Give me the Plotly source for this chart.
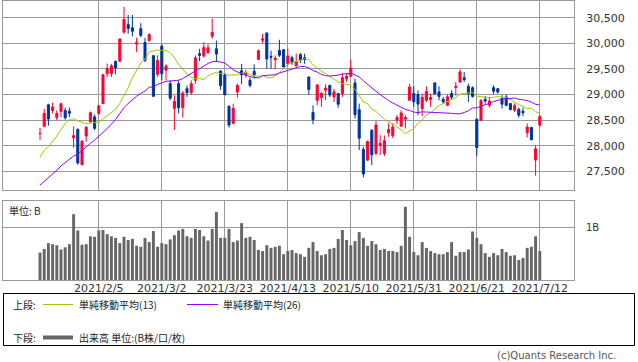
import plotly.graph_objects as go

W, H = 638, 362

# ---------------- data ----------------
months = {
    1: [18, 19, 20, 21, 22, 25, 26, 27, 28, 29],
    2: [1, 2, 3, 4, 5, 8, 9, 10, 12, 15, 16, 17, 18, 19, 22, 24, 25, 26],
    3: [1, 2, 3, 4, 5, 8, 9, 10, 11, 12, 15, 16, 17, 18, 19, 22, 23, 24, 25, 26, 29, 30, 31],
    4: [1, 2, 5, 6, 7, 8, 9, 12, 13, 14, 15, 16, 19, 20, 21, 22, 23, 26, 27, 28, 30],
    5: [6, 7, 10, 11, 12, 13, 14, 17, 18, 19, 20, 21, 24, 25, 26, 27, 28, 31],
    6: [1, 2, 3, 4, 7, 8, 9, 10, 11, 14, 15, 16, 17, 18, 21, 22, 23, 24, 25, 28, 29, 30],
    7: [1, 2, 5, 6, 7, 8, 9, 12],
}
dates = [f"2021/{m}/{d}" for m, ds in months.items() for d in ds]

opens = [28238, 28380, 28800, 28690, 28550, 28670, 28690, 28675, 28155, 28320,
         27630, 28190, 28466, 28564, 28630, 28822, 29408, 29410, 29648, 29650,
         30220, 30370, 30305, 29985, 30285, 30017, 30058, 29760, 29395, 29946,
         29473, 29213, 28730, 29213, 28745, 29114, 29035, 29278, 29798, 29752,
         29817, 30140, 29895, 29460, 29382, 28771, 28435, 29050, 29465, 29385,
         29278, 29454, 29687, 30060, 30200, 29745, 29680, 29862, 29876, 29603,
         29720, 29557, 29780, 29720, 29343, 28650, 28888, 28942, 29083, 29180,
         28954, 29019, 29019, 29310, 29356, 29227, 28706, 27928, 27720, 28304,
         27851, 28012, 27851, 28252, 28194, 28500, 28382, 28519, 28888, 29019,
         28999, 28727, 28888, 28903, 29227, 29051, 28908, 28790, 29019, 29140,
         29245, 29327, 29160, 29134, 28519, 28500, 28906, 28790, 29134, 29114,
         28922, 28954, 28824, 28694, 28712, 28675, 28252, 28357, 27720, 28402]
highs = [28349, 28720, 28820, 28840, 28690, 28830, 28745, 28745, 28375, 28340,
         28100, 28385, 28670, 28611, 28800, 29400, 29604, 29600, 29667, 30100,
         30714, 30555, 30555, 30110, 30395, 30104, 30200, 29760, 29765, 29985,
         29590, 29278, 28985, 29278, 29070, 29178, 29280, 29765, 29895, 30020,
         29985, 30485, 30053, 29473, 29400, 28790, 28820, 29213, 29600, 29480,
         29330, 29590, 29880, 30188, 30220, 29857, 29765, 30070, 29890, 29895,
         29760, 29798, 29810, 29800, 29356, 28790, 29200, 29050, 29200, 29190,
         29114, 29032, 29420, 29420, 29685, 29310, 28822, 27980, 28100, 28318,
         28486, 28207, 28200, 28435, 28440, 28600, 28690, 28597, 29213, 29160,
         29083, 29019, 29160, 29019, 29240, 29161, 28954, 29003, 29083, 29245,
         29493, 29440, 29213, 29160, 28532, 28910, 28973, 28954, 29180, 29130,
         28986, 29000, 28840, 28824, 28745, 28745, 28435, 28370, 28012, 28600]
lows = [28111, 28360, 28390, 28630, 28500, 28560, 28510, 28560, 27960, 27630,
        27620, 28080, 28450, 28305, 28600, 28820, 29343, 29340, 29395, 29640,
        30188, 30190, 30136, 29830, 30123, 29636, 30030, 28950, 29343, 29278,
        29278, 28888, 28308, 28630, 28550, 28954, 29000, 29213, 29655, 29720,
        29798, 30090, 29636, 29094, 28990, 28356, 28420, 28940, 29200, 29330,
        29140, 29310, 29680, 30006, 29505, 29505, 29494, 29733, 29530, 29570,
        29580, 29557, 29616, 29600, 29000, 28421, 28790, 28760, 28890, 28954,
        28855, 28745, 28953, 29250, 29343, 28533, 27915, 27385, 27700, 27623,
        27817, 27817, 27800, 28174, 28150, 28420, 28370, 28337, 28888, 28760,
        28597, 28578, 28856, 28760, 28990, 28888, 28822, 28790, 28908, 28980,
        29227, 29245, 28856, 28940, 27795, 28480, 28822, 28745, 29003, 29020,
        28727, 28770, 28690, 28661, 28550, 28578, 28162, 28110, 27414, 28370]
closes = [28242, 28633, 28523, 28756, 28631, 28822, 28546, 28635, 28197, 27663,
          28091, 28362, 28646, 28341, 28779, 29388, 29505, 29562, 29520, 30084,
          30467, 30292, 30236, 30017, 30156, 29671, 30168, 28966, 29664, 29408,
          29559, 28930, 28864, 28743, 29028, 29036, 29212, 29717, 29766, 29921,
          29914, 30216, 29792, 29174, 28995, 28405, 28729, 29176, 29384, 29432,
          29178, 29388, 29854, 30089, 29696, 29730, 29708, 29768, 29538, 29751,
          29620, 29642, 29683, 29685, 29100, 28508, 29188, 29020, 29126, 28991,
          29053, 28812, 29331, 29357, 29518, 28608, 28147, 27448, 28084, 27824,
          28406, 28044, 28098, 28317, 28364, 28553, 28642, 28549, 29149, 28860,
          28814, 28946, 29058, 28942, 29019, 28963, 28860, 28958, 28948, 29161,
          29441, 29291, 29018, 28964, 27964, 28884, 28874, 28875, 29066, 29048,
          28812, 28791, 28707, 28783, 28598, 28643, 28366, 28118, 27940, 28569]
ma13 = [27773, 27910, 27983, 28084, 28190, 28318, 28432, 28520, 28525, 28486,
        28458, 28432, 28442, 28450, 28461, 28528, 28585, 28657, 28710, 28829,
        28970, 29131, 29329, 29477, 29615, 29694, 29834, 29849, 29870, 29862,
        29862, 29817, 29723, 29590, 29493, 29401, 29339, 29305, 29312, 29293,
        29366, 29409, 29438, 29409, 29414, 29378, 29377, 29389, 29416, 29432,
        29391, 29362, 29357, 29370, 29330, 29325, 29367, 29426, 29513, 29592,
        29626, 29646, 29665, 29704, 29682, 29578, 29509, 29457, 29411, 29355,
        29300, 29245, 29212, 29192, 29183, 29100, 28982, 28854, 28822, 28717,
        28670, 28586, 28518, 28461, 28427, 28367, 28312, 28237, 28279, 28334,
        28439, 28505, 28600, 28641, 28716, 28783, 28825, 28870, 28901, 28941,
        29009, 29020, 29032, 29044, 28968, 28955, 28950, 28939, 28947, 28961,
        28950, 28938, 28903, 28852, 28799, 28770, 28724, 28736, 28663, 28640]
ma26 = [27231, 27301, 27369, 27450, 27523, 27605, 27674, 27744, 27800, 27836,
        27900, 27970, 28046, 28111, 28185, 28255, 28335, 28423, 28514, 28631,
        28745, 28828, 28908, 28968, 29024, 29068, 29142, 29155, 29199, 29224,
        29259, 29264, 29276, 29280, 29312, 29365, 29408, 29460, 29503, 29564,
        29608, 29639, 29650, 29635, 29615, 29551, 29484, 29441, 29408, 29386,
        29348, 29337, 29325, 29368, 29370, 29382, 29388, 29420, 29446, 29485,
        29507, 29531, 29549, 29548, 29522, 29468, 29440, 29394, 29368, 29361,
        29363, 29379, 29402, 29409, 29414, 29382, 29343, 29268, 29200, 29113,
        29063, 28999, 28937, 28881, 28836, 28790, 28752, 28710, 28689, 28658,
        28647, 28663, 28658, 28655, 28651, 28650, 28643, 28648, 28634, 28626,
        28623, 28650, 28683, 28741, 28737, 28777, 28795, 28827, 28865, 28893,
        28910, 28919, 28922, 28931, 28909, 28901, 28884, 28852, 28809, 28795]
volume_b = [0.52, 0.59, 0.70, 0.68, 0.66, 0.58, 0.62, 0.68, 1.25, 0.94,
            0.67, 0.68, 0.83, 0.82, 0.94, 0.95, 0.87, 0.83, 0.80, 0.70,
            0.82, 0.76, 0.78, 0.65, 0.63, 0.80, 0.72, 0.93, 0.63, 0.70,
            0.68, 0.77, 0.85, 0.94, 0.97, 0.83, 0.80, 0.97, 0.95, 0.83,
            0.75, 0.97, 1.29, 0.80, 0.80, 0.97, 0.72, 0.75, 1.08, 0.80,
            0.82, 0.76, 0.57, 0.55, 0.66, 0.61, 0.63, 0.65, 0.49, 0.55,
            0.57, 0.51, 0.49, 0.44, 0.61, 0.72, 0.55, 0.47, 0.49, 0.59,
            0.61, 0.78, 0.95, 0.76, 0.66, 0.74, 0.91, 0.80, 0.65, 0.74,
            0.68, 0.57, 0.59, 0.55, 0.55, 0.53, 0.65, 1.39, 0.82, 0.53,
            0.47, 0.72, 0.61, 0.55, 0.51, 0.49, 0.49, 0.53, 0.72, 0.46,
            0.53, 0.53, 0.58, 0.92, 0.80, 0.68, 0.51, 0.44, 0.51, 0.47,
            0.59, 0.53, 0.46, 0.47, 0.38, 0.42, 0.61, 0.63, 0.83, 0.55]

date_tick_labels = ["2021/2/5", "2021/3/2", "2021/3/23", "2021/4/13",
                    "2021/5/10", "2021/5/31", "2021/6/21", "2021/7/12"]
price_ticks = [27500, 28000, 28500, 29000, 29500, 30000, 30500]
volume_ticks = [1]
volume_tick_labels = ["1B"]

# ---------------- helpers ----------------
xi = list(range(len(dates)))
tick_pos = [dates.index(d) for d in date_tick_labels]


def px(x):
    return x / W


def py(y):
    return 1 - y / H


X_RANGE = [(3 - 40) / 4.2, (574 - 40) / 4.2]
RED = "#ff0033"
BLUE = "#003399"
GRID = "#999999"
FONT = "DejaVu Sans, Noto Sans CJK JP, sans-serif"
CJK = "Noto Sans CJK JP, DejaVu Sans, sans-serif"

fig = go.Figure()

fig.add_trace(go.Candlestick(
    x=xi, open=opens, high=highs, low=lows, close=closes,
    increasing=dict(line=dict(color=RED, width=1), fillcolor=RED),
    decreasing=dict(line=dict(color=BLUE, width=1), fillcolor=BLUE),
    whiskerwidth=0, xaxis="x", yaxis="y", showlegend=False,
))
fig.add_trace(go.Scatter(x=xi, y=ma13, mode="lines",
                         line=dict(color="#99cc00", width=1),
                         xaxis="x", yaxis="y", showlegend=False))
fig.add_trace(go.Scatter(x=xi, y=ma26, mode="lines",
                         line=dict(color="#9900ff", width=1),
                         xaxis="x", yaxis="y", showlegend=False))
fig.add_trace(go.Bar(x=xi, y=volume_b, marker=dict(color="#666666", line=dict(width=0)),
                     xaxis="x2", yaxis="y2", showlegend=False))

axis_common = dict(showgrid=True, gridcolor=GRID, gridwidth=1, zeroline=False,
                   showline=True, linecolor=GRID, linewidth=1, mirror=True)

fig.update_layout(
    width=W, height=H,
    margin=dict(l=0, r=0, t=0, b=0),
    paper_bgcolor="white", plot_bgcolor="white",
    bargap=0.3, boxgap=0.3,
    font=dict(family=FONT, size=11, color="#333333"),
    xaxis=dict(domain=[px(3), px(574)], range=X_RANGE, tickvals=tick_pos,
               showticklabels=False, ticks="", rangeslider=dict(visible=False),
               anchor="y", **axis_common),
    yaxis=dict(domain=[py(190), py(0.5)], range=[27136, 30837], side="right",
               tickvals=price_ticks, ticktext=[f"{v:,}" for v in price_ticks],
               ticks="", ticklabelstandoff=9, anchor="x",
               tickfont=dict(family=FONT, size=11, color="#333333"), **axis_common),
    xaxis2=dict(domain=[px(3), px(574)], range=X_RANGE, tickvals=tick_pos,
                ticktext=date_tick_labels, ticks="", anchor="y2",
                ticklabelstandoff=-2,
                tickfont=dict(family=FONT, size=11, color="#333333"), **axis_common),
    yaxis2=dict(domain=[py(280), py(201)], range=[0, 1.5], side="right",
                tickvals=volume_ticks, ticktext=volume_tick_labels, ticks="",
                ticklabelstandoff=9, anchor="x2",
                tickfont=dict(family=FONT, size=10, color="#333333"), **axis_common),
)

# legend box
fig.add_shape(type="rect", xref="paper", yref="paper",
              x0=px(3.5), x1=px(634.5), y0=py(345.5), y1=py(293.5),
              line=dict(color="black", width=1), fillcolor="rgba(0,0,0,0)")
fig.add_shape(type="line", xref="paper", yref="paper",
              x0=px(43), x1=px(73), y0=py(304.5), y1=py(304.5),
              line=dict(color="#99cc00", width=1))
fig.add_shape(type="line", xref="paper", yref="paper",
              x0=px(187), x1=px(218), y0=py(304.5), y1=py(304.5),
              line=dict(color="#9900ff", width=1))
fig.add_shape(type="line", xref="paper", yref="paper",
              x0=px(43), x1=px(73), y0=py(337.5), y1=py(337.5),
              line=dict(color="#666666", width=4))

texts = [
    ("上段:", 11, 304.5),
    ("単純移動平均(13)", 77, 304.5),
    ("単純移動平均(26)", 221, 304.5),
    ("下段:", 11, 337.5),
    ("出来高 単位:(B株/口/枚)", 77, 337.5),
    ("単位: B", 7, 210),
]
for t, x, y in texts:
    fig.add_annotation(text=t, x=px(x), y=py(y), xref="paper", yref="paper",
                       xanchor="left", yanchor="middle", showarrow=False,
                       font=dict(family=CJK, size=10, color="#222222"))

fig.add_annotation(text="(c)Quants Research Inc.", x=px(618), y=py(355.5),
                   xref="paper", yref="paper", xanchor="right", yanchor="middle",
                   showarrow=False, font=dict(family=FONT, size=10, color="#555555"))

fig.write_html("out.html", config={"displayModeBar": False},
               post_script="document.body.style.margin='0';document.body.style.padding='0';")
